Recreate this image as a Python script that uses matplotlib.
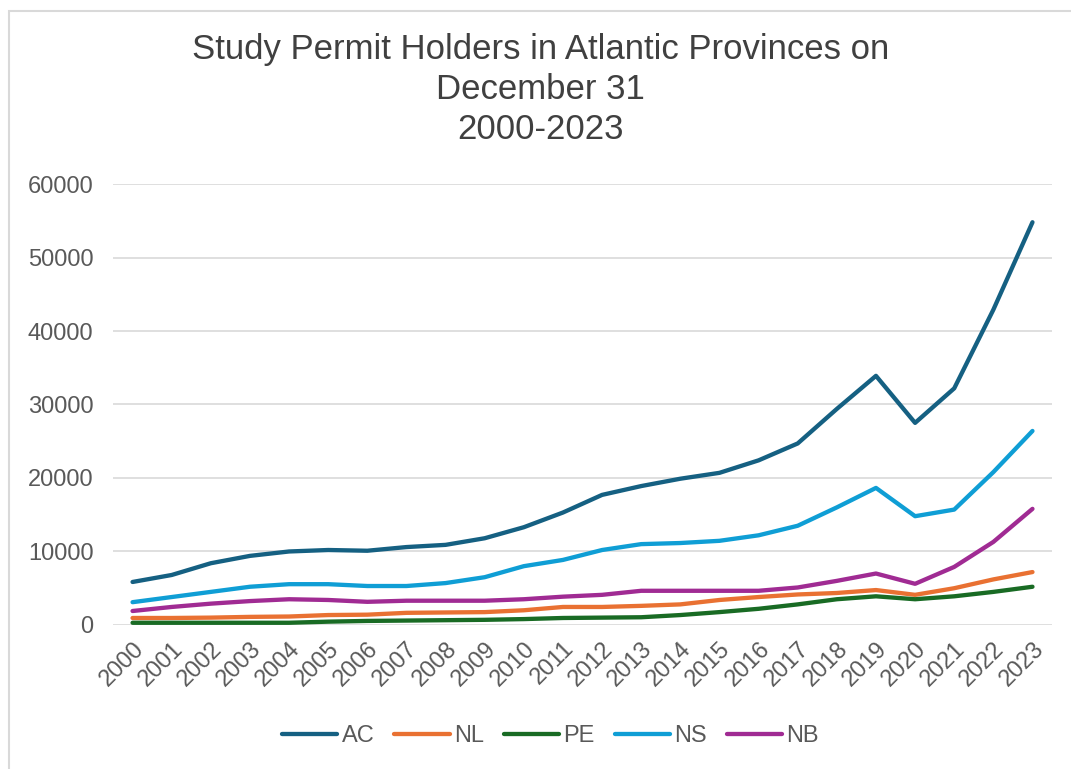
import matplotlib.pyplot as plt
import numpy as np
from matplotlib.patches import Rectangle

years = [str(y) for y in range(2000, 2024)]

ac = [5850, 6800, 8400, 9400, 10000, 10200, 10100, 10600, 10900, 11800, 13300, 15300,
      17700, 18900, 19900, 20700, 22400, 24700, 29400, 33900, 27500, 32200, 42900, 54800]
nl = [950, 950, 1000, 1100, 1150, 1350, 1400, 1650, 1700, 1750, 2000, 2450,
      2450, 2600, 2800, 3400, 3800, 4150, 4350, 4750, 4100, 5000, 6200, 7200]
pe = [300, 300, 300, 300, 300, 450, 550, 600, 650, 700, 800, 950,
      1000, 1050, 1350, 1750, 2200, 2800, 3500, 3900, 3500, 3900, 4500, 5200]
ns = [3100, 3800, 4500, 5200, 5550, 5550, 5300, 5300, 5700, 6500, 8000, 8850,
      10200, 11000, 11150, 11450, 12200, 13500, 16000, 18650, 14800, 15700, 20800, 26400]
nb = [1900, 2450, 2900, 3250, 3500, 3400, 3150, 3300, 3300, 3300, 3500, 3850,
      4100, 4650, 4650, 4650, 4650, 5100, 6000, 7000, 5600, 7900, 11300, 15800]

series = [("AC", ac, "#156082"), ("NL", nl, "#E97132"), ("PE", pe, "#196B24"),
          ("NS", ns, "#0F9ED5"), ("NB", nb, "#A02B93")]

plt.rcParams['font.family'] = ['Liberation Sans', 'DejaVu Sans']
grey = "#595959"

fig = plt.figure(figsize=(10.71, 7.69), dpi=100)
ax = fig.add_axes([0.1055, 0.1873, 0.8768, 0.5734])

x = np.arange(len(years))
for name, vals, col in series:
    ax.plot(x, vals, color=col, lw=3.1, label=name, solid_capstyle='round')

ax.set_xlim(-0.5, len(years) - 0.5)
ax.set_ylim(0, 60000)
ax.set_yticks(range(0, 60001, 10000))
ax.set_xticks(x)
ax.set_xticklabels(years, rotation=45, ha='right', rotation_mode='anchor')
ax.tick_params(axis='both', length=0, labelsize=17, colors=grey)
ax.tick_params(axis='y', pad=14)
ax.tick_params(axis='x', pad=9)
ax.grid(axis='y', color='#d9d9d9', lw=1.2)
ax.set_axisbelow(True)
for s in ax.spines.values():
    s.set_visible(False)

fig.text(0.505, 0.957, "Study Permit Holders in Atlantic Provinces on\nDecember 31\n2000-2023",
         ha='center', va='top', fontsize=25, color='#404040', linespacing=1.27)

ax.legend(loc='center', bbox_to_anchor=(0.514, 0.043), bbox_transform=fig.transFigure,
          ncol=5, frameon=False, fontsize=17, labelcolor=grey, handlelength=2.35,
          handletextpad=0.17, columnspacing=0.85)

# chart border, only left and top edges fall inside the picture
fig.patches.append(Rectangle((0.008, -0.1), 1.2, 1.086, transform=fig.transFigure,
                             fill=False, edgecolor='#d9d9d9', lw=1.5))

fig.savefig("out.png", dpi=100)
